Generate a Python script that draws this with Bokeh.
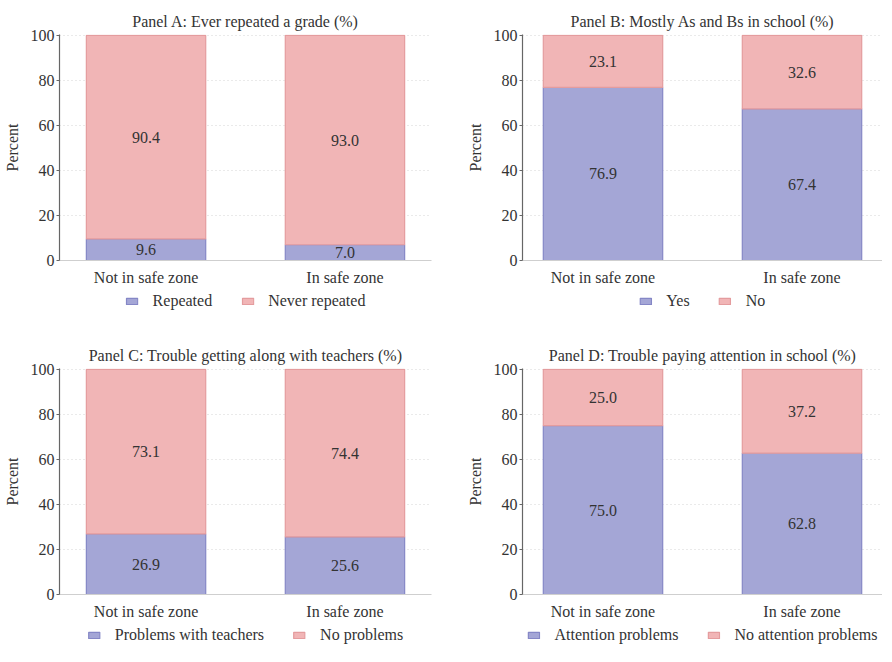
from bokeh.plotting import figure
from bokeh.layouts import column, row
from bokeh.models import ColumnDataSource, Legend, LegendItem, Range1d, FactorRange
from bokeh.embed import file_html
from bokeh.resources import INLINE
from bokeh.core.properties import value

categories = ["Not in safe zone", "In safe zone"]

titles = [
    "Panel A: Ever repeated a grade (%)",
    "Panel B: Mostly As and Bs in school (%)",
    "Panel C: Trouble getting along with teachers (%)",
    "Panel D: Trouble paying attention in school (%)",
]
bottom_names = ["Repeated", "Yes", "Problems with teachers", "Attention problems"]
top_names = ["Never repeated", "No", "No problems", "No attention problems"]

repeated = [9.6, 7.0]
never_repeated = [90.4, 93.0]
mostly_ab_yes = [76.9, 67.4]
mostly_ab_no = [23.1, 32.6]
teacher_problems = [26.9, 25.6]
teacher_no_problems = [73.1, 74.4]
attention_problems = [75.0, 62.8]
no_attention_problems = [25.0, 37.2]

bottom_vals = [repeated, mostly_ab_yes, teacher_problems, attention_problems]
top_vals = [never_repeated, mostly_ab_no, teacher_no_problems, no_attention_problems]

BLUE_FILL = "#a4a6d6"
BLUE_LINE = "#8587c6"
PINK_FILL = "#f1b5b6"
PINK_LINE = "#e49c9e"
TEXT = "#333333"
FONT = "Liberation Serif"
FS = 16

FRAME_H = 226
TOP_B = 34
BOT_B = 22


def make_panel(i, left_border, right_border, frame_w, pad, leg_h):
    bvals = bottom_vals[i]
    tvals = top_vals[i]
    src = ColumnDataSource(dict(
        cat=categories,
        low=bvals,
        high=tvals,
        low_mid=[b / 2 for b in bvals],
        high_mid=[b + t / 2 for b, t in zip(bvals, tvals)],
        low_lab=["%.1f" % b for b in bvals],
        high_lab=["%.1f" % t for t in tvals],
    ))
    p = figure(
        x_range=FactorRange(*categories, range_padding=pad,
                            range_padding_units="absolute"),
        y_range=Range1d(0, 100.4),
        frame_width=frame_w, frame_height=FRAME_H,
        min_border_left=left_border, min_border_right=right_border,
        min_border_top=TOP_B, min_border_bottom=BOT_B,
        output_backend="svg", toolbar_location=None,
        title=titles[i],
    )
    p.title.align = "center"
    p.title.text_font = FONT
    p.title.text_font_size = "%dpx" % FS
    p.title.text_font_style = "normal"
    p.title.text_color = TEXT
    p.title.standoff = 10

    r = p.vbar_stack(["low", "high"], x="cat", width=0.6, source=src,
                     fill_color=[BLUE_FILL, PINK_FILL],
                     line_color=[BLUE_LINE, PINK_LINE], line_width=1.2)

    for ycol, tcol in (("low_mid", "low_lab"), ("high_mid", "high_lab")):
        p.text(x="cat", y=ycol, text=tcol, source=src,
               text_align="center", text_baseline="middle",
               text_font=value(FONT), text_font_size="%dpx" % FS,
               text_color=TEXT)

    p.outline_line_color = None
    p.xgrid.grid_line_color = None
    p.ygrid.grid_line_color = "#d4d4d4"
    p.ygrid.grid_line_dash = "1 3"
    p.ygrid.ticker = [0, 20, 40, 60, 80, 100]

    p.yaxis.ticker = [0, 20, 40, 60, 80, 100]
    p.yaxis.axis_label = "Percent"
    p.yaxis.axis_label_text_font = FONT
    p.yaxis.axis_label_text_font_style = "normal"
    p.yaxis.axis_label_text_font_size = "%dpx" % FS
    p.yaxis.axis_label_text_color = TEXT
    p.yaxis.axis_label_standoff = 7
    p.yaxis.major_label_text_font = FONT
    p.yaxis.major_label_text_font_size = "%dpx" % FS
    p.yaxis.major_label_text_color = TEXT
    p.yaxis.major_label_standoff = 2
    p.yaxis.axis_line_color = "#666666"
    p.yaxis.axis_line_width = 1.2
    p.yaxis.major_tick_line_color = "#666666"
    p.yaxis.major_tick_out = 3
    p.yaxis.major_tick_in = 0
    p.yaxis.minor_tick_line_color = None

    p.xaxis.axis_line_color = "#cfcfcf"
    p.xaxis.major_tick_line_color = None
    p.xaxis.minor_tick_line_color = None
    p.xaxis.major_label_text_font = FONT
    p.xaxis.major_label_text_font_size = "%dpx" % FS
    p.xaxis.major_label_text_color = TEXT
    p.xaxis.major_label_standoff = 2

    # legend strip below the panel, aligned with the panel's frame; it holds
    # the same stacked bars, scrolled out of view, so the legend can show them
    lf = figure(
        x_range=FactorRange(*categories), y_range=Range1d(1000, 1001),
        frame_width=frame_w, frame_height=leg_h,
        min_border_left=left_border, min_border_right=right_border,
        min_border_top=0, min_border_bottom=0,
        x_axis_location=None, y_axis_location=None,
        output_backend="svg", toolbar_location=None,
    )
    lf.outline_line_color = None
    lf.grid.grid_line_color = None
    g = lf.vbar_stack(["low", "high"], x="cat", width=0.6, source=src,
                      fill_color=[BLUE_FILL, PINK_FILL],
                      line_color=[BLUE_LINE, PINK_LINE], line_width=1.2)
    legend = Legend(items=[
        LegendItem(label=bottom_names[i], renderers=[g[0]]),
        LegendItem(label=top_names[i], renderers=[g[1]]),
    ], orientation="horizontal", location="top_center")
    legend.border_line_color = None
    legend.background_fill_alpha = 0
    legend.label_text_font = FONT
    legend.label_text_font_size = "%dpx" % FS
    legend.label_text_color = TEXT
    legend.glyph_width = 14
    legend.glyph_height = 8
    legend.spacing = 28
    legend.label_standoff = 14
    legend.padding = 2
    legend.margin = 4
    lf.add_layout(legend)
    return column(p, lf, spacing=0)


pa = make_panel(0, 53, 25, 372, -0.065, 46)
pb = make_panel(1, 66, 0, 360, -0.0955, 46)
pc = make_panel(2, 53, 25, 372, -0.065, 30)
pd = make_panel(3, 66, 0, 360, -0.0955, 30)

layout = column(row(pa, pb, spacing=0), row(pc, pd, spacing=0), spacing=0)
open("out.html", "w").write(file_html(layout, INLINE))
